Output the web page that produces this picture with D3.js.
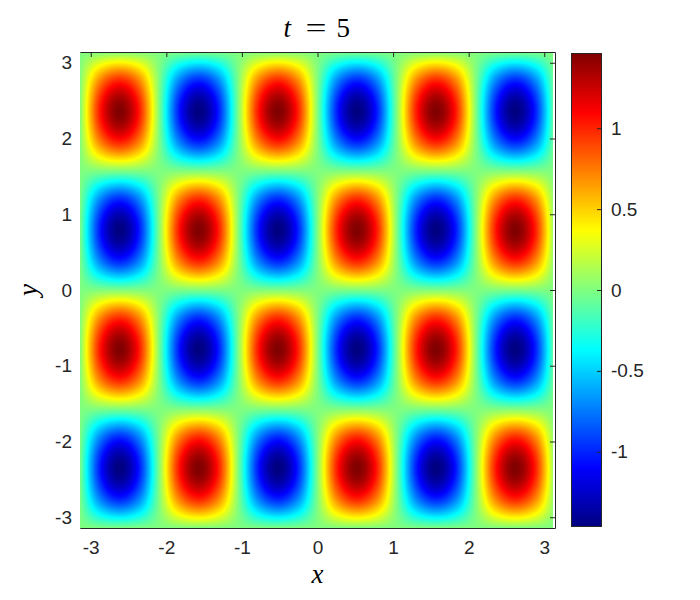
<!DOCTYPE html>
<html>
<head>
<meta charset="utf-8">
<script src="https://cdn.jsdelivr.net/npm/d3@7"></script>
<style>
body { margin: 0; background: #fff; }
.axis text { font-family: "Liberation Sans", Arial, Helvetica, sans-serif; font-size: 19px; fill: #262626; }
.axis path, .axis line { stroke: #262626; }
.label { font-family: "Liberation Serif", "Times New Roman", serif; font-style: italic; fill: #000; }
</style>
</head>
<body>
<div id="svganchor"></div>
<script>
let width = 700, height = 600;
let margin = ({top: 52, right: 145, bottom: 72, left: 80});

// grid nodes (x: 25 columns, y: 17 rows)
let xGrid = [-3.142, -2.880, -2.618, -2.356, -2.094, -1.833, -1.571, -1.309, -1.047, -0.785, -0.524, -0.262,
    0, 0.262, 0.524, 0.785, 1.047, 1.309, 1.571, 1.833, 2.094, 2.356, 2.618, 2.880, 3.142];
let yGrid = [-3.142, -2.749, -2.356, -1.963, -1.571, -1.178, -0.785, -0.393,
    0, 0.393, 0.785, 1.178, 1.571, 1.963, 2.356, 2.749, 3.142];

// field values, first row is y = -3.142, last row is y = 3.142
let zGrid = [
    [0, 0, 0, 0, 0, 0, 0, 0, 0, 0, 0, 0, 0, 0, 0, 0, 0, 0, 0, 0, 0, 0, 0, 0, 0],
    [0, -0.73, -1.03, -0.73, 0, 0.73, 1.03, 0.73, 0, -0.73, -1.03, -0.73, 0, 0.73, 1.03, 0.73, 0, -0.73, -1.03, -0.73, 0, 0.73, 1.03, 0.73, 0],
    [0, -1.03, -1.46, -1.03, 0, 1.03, 1.46, 1.03, 0, -1.03, -1.46, -1.03, 0, 1.03, 1.46, 1.03, 0, -1.03, -1.46, -1.03, 0, 1.03, 1.46, 1.03, 0],
    [0, -0.73, -1.03, -0.73, 0, 0.73, 1.03, 0.73, 0, -0.73, -1.03, -0.73, 0, 0.73, 1.03, 0.73, 0, -0.73, -1.03, -0.73, 0, 0.73, 1.03, 0.73, 0],
    [0, 0, 0, 0, 0, 0, 0, 0, 0, 0, 0, 0, 0, 0, 0, 0, 0, 0, 0, 0, 0, 0, 0, 0, 0],
    [0, 0.73, 1.03, 0.73, 0, -0.73, -1.03, -0.73, 0, 0.73, 1.03, 0.73, 0, -0.73, -1.03, -0.73, 0, 0.73, 1.03, 0.73, 0, -0.73, -1.03, -0.73, 0],
    [0, 1.03, 1.46, 1.03, 0, -1.03, -1.46, -1.03, 0, 1.03, 1.46, 1.03, 0, -1.03, -1.46, -1.03, 0, 1.03, 1.46, 1.03, 0, -1.03, -1.46, -1.03, 0],
    [0, 0.73, 1.03, 0.73, 0, -0.73, -1.03, -0.73, 0, 0.73, 1.03, 0.73, 0, -0.73, -1.03, -0.73, 0, 0.73, 1.03, 0.73, 0, -0.73, -1.03, -0.73, 0],
    [0, 0, 0, 0, 0, 0, 0, 0, 0, 0, 0, 0, 0, 0, 0, 0, 0, 0, 0, 0, 0, 0, 0, 0, 0],
    [0, -0.73, -1.03, -0.73, 0, 0.73, 1.03, 0.73, 0, -0.73, -1.03, -0.73, 0, 0.73, 1.03, 0.73, 0, -0.73, -1.03, -0.73, 0, 0.73, 1.03, 0.73, 0],
    [0, -1.03, -1.46, -1.03, 0, 1.03, 1.46, 1.03, 0, -1.03, -1.46, -1.03, 0, 1.03, 1.46, 1.03, 0, -1.03, -1.46, -1.03, 0, 1.03, 1.46, 1.03, 0],
    [0, -0.73, -1.03, -0.73, 0, 0.73, 1.03, 0.73, 0, -0.73, -1.03, -0.73, 0, 0.73, 1.03, 0.73, 0, -0.73, -1.03, -0.73, 0, 0.73, 1.03, 0.73, 0],
    [0, 0, 0, 0, 0, 0, 0, 0, 0, 0, 0, 0, 0, 0, 0, 0, 0, 0, 0, 0, 0, 0, 0, 0, 0],
    [0, 0.73, 1.03, 0.73, 0, -0.73, -1.03, -0.73, 0, 0.73, 1.03, 0.73, 0, -0.73, -1.03, -0.73, 0, 0.73, 1.03, 0.73, 0, -0.73, -1.03, -0.73, 0],
    [0, 1.03, 1.46, 1.03, 0, -1.03, -1.46, -1.03, 0, 1.03, 1.46, 1.03, 0, -1.03, -1.46, -1.03, 0, 1.03, 1.46, 1.03, 0, -1.03, -1.46, -1.03, 0],
    [0, 0.73, 1.03, 0.73, 0, -0.73, -1.03, -0.73, 0, 0.73, 1.03, 0.73, 0, -0.73, -1.03, -0.73, 0, 0.73, 1.03, 0.73, 0, -0.73, -1.03, -0.73, 0],
    [0, 0, 0, 0, 0, 0, 0, 0, 0, 0, 0, 0, 0, 0, 0, 0, 0, 0, 0, 0, 0, 0, 0, 0, 0]
];

let xTicks = [-3, -2, -1, 0, 1, 2, 3];
let yTicks = [-3, -2, -1, 0, 1, 2, 3];
let cbarTicks = [-1, -0.5, 0, 0.5, 1];
let cLimits = [-1.465, 1.465];
let titleText = ["t", "=", "5"];

// jet colormap
let jetStops = [0, 0.125, 0.375, 0.625, 0.875, 1];
let jetColors = ["#00007f", "#0000ff", "#00ffff", "#ffff00", "#ff0000", "#7f0000"];

let plainFormat = d => String(d);  // hyphen minus like MATLAB

let xScale = d3.scaleLinear()
    .domain([xGrid[0], xGrid[xGrid.length - 1]])
    .range([margin.left, width - margin.right]);

let yScale = d3.scaleLinear()
    .domain([yGrid[0], yGrid[yGrid.length - 1]])
    .range([height - margin.bottom, margin.top]);

let colors = d3.scaleLinear()
    .domain(jetStops.map(s => cLimits[0] + s * (cLimits[1] - cLimits[0])))
    .range(jetColors)
    .clamp(true);

let svg = d3.select("#svganchor")
    .append("svg")
    .attr("width", width)
    .attr("height", height);

// axes hidden under the surface (left, bottom)
let xAxis = d3.axisBottom(xScale)
    .tickValues(xTicks)
    .tickFormat(plainFormat)
    .tickSizeInner(-5)
    .tickSizeOuter(0)
    .tickPadding(13);

let yAxis = d3.axisLeft(yScale)
    .tickValues(yTicks)
    .tickFormat(plainFormat)
    .tickSizeInner(-5)
    .tickSizeOuter(0)
    .tickPadding(8);

svg.append("g")
    .attr("class", "x axis")
    .attr("transform", `translate(0,${height - margin.bottom})`)
    .call(xAxis);

svg.append("g")
    .attr("class", "y axis")
    .attr("transform", `translate(${margin.left},0)`)
    .call(yAxis);

// interpolated surface image
let nr = yGrid.length, nc = xGrid.length;
let colIndex = d3.scaleLinear().domain([xGrid[0], xGrid[nc - 1]]).range([0, nc - 1]);
let rowIndex = d3.scaleLinear().domain([yGrid[0], yGrid[nr - 1]]).range([0, nr - 1]);

function zAt(r, c) {
    if (r < 0) return 2 * zAt(0, c) - zAt(1, c);
    if (r > nr - 1) return 2 * zAt(nr - 1, c) - zAt(nr - 2, c);
    if (c < 0) return 2 * zAt(r, 0) - zAt(r, 1);
    if (c > nc - 1) return 2 * zAt(r, nc - 1) - zAt(r, nc - 2);
    return zGrid[r][c];
}

function cubic(p0, p1, p2, p3, t) {
    return p1 + 0.5 * t * (p2 - p0 + t * (2 * p0 - 5 * p1 + 4 * p2 - p3 + t * (3 * (p1 - p2) + p3 - p0)));
}

function valueAt(xv, yv) {
    let gx = colIndex(xv), gy = rowIndex(yv);
    let c = Math.max(0, Math.min(nc - 2, Math.floor(gx)));
    let r = Math.max(0, Math.min(nr - 2, Math.floor(gy)));
    let tx = gx - c, ty = gy - r;
    let rows = [];
    for (let k = -1; k <= 2; k++) {
        rows.push(cubic(zAt(r + k, c - 1), zAt(r + k, c), zAt(r + k, c + 1), zAt(r + k, c + 2), tx));
    }
    return cubic(rows[0], rows[1], rows[2], rows[3], ty);
}

let lut = d3.range(256).map(i => d3.rgb(colors(cLimits[0] + (i / 255) * (cLimits[1] - cLimits[0]))));

let imgX0 = Math.round(xScale(xGrid[0])), imgX1 = Math.round(xScale(3.115));
let imgY0 = Math.round(yScale(yGrid[nr - 1])), imgY1 = Math.round(yScale(yGrid[0]));
let iw = imgX1 - imgX0, ih = imgY1 - imgY0;

let canvas = document.createElement("canvas");
canvas.width = iw;
canvas.height = ih;
let ctx = canvas.getContext("2d");
let imgData = ctx.createImageData(iw, ih);
for (let j = 0; j < ih; j++) {
    let yv = yScale.invert(imgY0 + j + 0.5);
    for (let i = 0; i < iw; i++) {
        let xv = xScale.invert(imgX0 + i + 0.5);
        let v = valueAt(xv, yv);
        let idx = Math.round((v - cLimits[0]) / (cLimits[1] - cLimits[0]) * 255);
        let col = lut[Math.max(0, Math.min(255, idx))];
        let p = (j * iw + i) * 4;
        imgData.data[p] = col.r;
        imgData.data[p + 1] = col.g;
        imgData.data[p + 2] = col.b;
        imgData.data[p + 3] = 255;
    }
}
ctx.putImageData(imgData, 0, 0);

svg.append("image")
    .attr("x", imgX0)
    .attr("y", imgY0)
    .attr("width", iw)
    .attr("height", ih)
    .attr("preserveAspectRatio", "none")
    .attr("href", canvas.toDataURL());

// visible box edges (top, right)
svg.append("g")
    .attr("class", "axis")
    .attr("transform", `translate(0,${margin.top})`)
    .call(d3.axisTop(xScale).tickValues(xTicks).tickFormat("").tickSizeInner(-5).tickSizeOuter(0));

svg.append("g")
    .attr("class", "axis")
    .attr("transform", `translate(${width - margin.right},0)`)
    .call(d3.axisRight(yScale).tickValues(yTicks).tickFormat("").tickSizeInner(-5).tickSizeOuter(0));

// colorbar
let cbarX = 571, cbarW = 31;
let cScale = d3.scaleLinear()
    .domain(cLimits)
    .range([height - margin.bottom - 1, margin.top + 1]);

let gradient = svg.append("defs")
    .append("linearGradient")
    .attr("id", "jet")
    .attr("x1", "0%")
    .attr("y1", "100%")
    .attr("x2", "0%")
    .attr("y2", "0%");

gradient.selectAll("stop")
    .data(jetStops)
    .enter()
    .append("stop")
    .attr("offset", d => (d * 100) + "%")
    .attr("stop-color", (d, i) => jetColors[i]);

svg.append("rect")
    .attr("x", cbarX)
    .attr("y", cScale(cLimits[1]))
    .attr("width", cbarW)
    .attr("height", cScale(cLimits[0]) - cScale(cLimits[1]))
    .style("fill", "url(#jet)");

svg.append("g")
    .attr("class", "axis")
    .attr("transform", `translate(${cbarX + cbarW},0)`)
    .call(d3.axisRight(cScale)
        .tickValues(cbarTicks)
        .tickFormat(plainFormat)
        .tickSizeInner(-5)
        .tickSizeOuter(0)
        .tickPadding(9))
    .call(g => g.select(".domain").remove());

svg.append("rect")
    .attr("x", cbarX + 0.5)
    .attr("y", cScale(cLimits[1]) + 0.5)
    .attr("width", cbarW - 1)
    .attr("height", cScale(cLimits[0]) - cScale(cLimits[1]) - 1)
    .attr("fill", "none")
    .attr("stroke", "#262626")
    .attr("stroke-width", 1);

// title and labels
let cx = (xScale.range()[0] + xScale.range()[1]) / 2;

svg.append("text")
    .attr("class", "label")
    .attr("x", cx - 34)
    .attr("y", 37)
    .attr("font-size", 27)
    .text(titleText[0]);

svg.append("text")
    .attr("x", cx - 12)
    .attr("y", 37)
    .attr("font-family", "Liberation Serif, serif")
    .attr("font-size", 27)
    .attr("textLength", 21)
    .attr("lengthAdjust", "spacingAndGlyphs")
    .text(titleText[1]);

svg.append("text")
    .attr("x", cx + 19)
    .attr("y", 37)
    .attr("font-family", "Liberation Serif, serif")
    .attr("font-size", 27)
    .text(titleText[2]);

svg.append("text")
    .attr("class", "label")
    .attr("text-anchor", "middle")
    .attr("x", cx)
    .attr("y", 583)
    .attr("font-size", 27)
    .text("x");

svg.append("text")
    .attr("class", "label")
    .attr("text-anchor", "middle")
    .attr("transform", `translate(37,${(yScale.range()[0] + yScale.range()[1]) / 2}) rotate(-90)`)
    .attr("font-size", 27)
    .text("y");
</script>
</body>
</html>
